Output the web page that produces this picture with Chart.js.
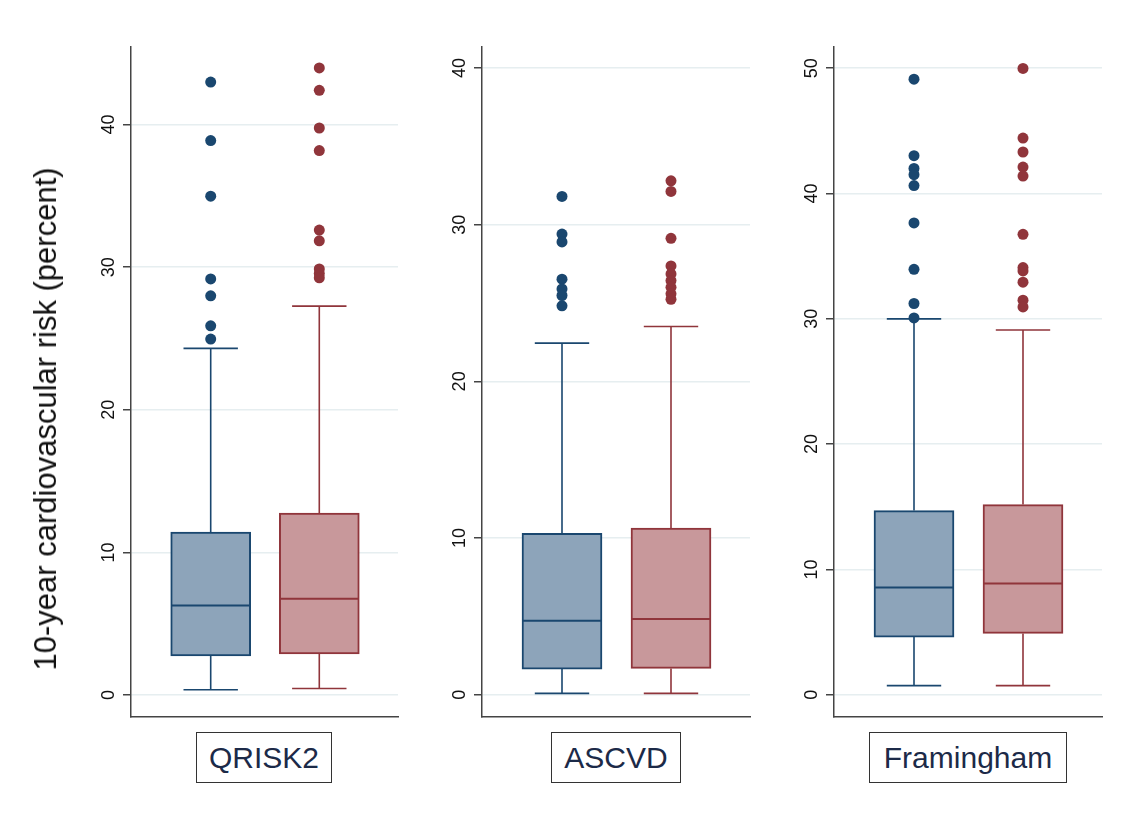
<!DOCTYPE html>
<html>
<head>
<meta charset="utf-8">
<script src="https://cdn.jsdelivr.net/npm/chart.js@4.4.1/dist/chart.umd.min.js"></script>
<style>
  body { margin: 0; background: #fff; }
  #wrap { position: relative; width: 1135px; height: 829px; overflow: hidden; font-family: "Liberation Sans", Arial, sans-serif; }
  canvas { position: absolute; top: 0; }
  .ytitle { position: absolute; left: 46px; top: 419px; transform: translate(-50%, -50%) rotate(-90deg); white-space: nowrap; font-size: 31px; color: #111; }
  .label { position: absolute; top: 732px; height: 51px; box-sizing: border-box; border: 1.5px solid #333; display: flex; align-items: center; justify-content: center; font-size: 30px; color: #1c2a48; }
</style>
</head>
<body>
<div id="wrap">
  <canvas id="c1" width="410" height="720" style="left:0px"></canvas>
  <canvas id="c2" width="350" height="720" style="left:410px"></canvas>
  <canvas id="c3" width="375" height="720" style="left:760px"></canvas>
  <div class="ytitle">10-year cardiovascular risk (percent)</div>
  <div class="label" style="left:196px;width:136px">QRISK2</div>
  <div class="label" style="left:551px;width:130px">ASCVD</div>
  <div class="label" style="left:869px;width:198px">Framingham</div>
</div>
<script>
// box stats: [lower whisker, Q1, median, Q3, upper whisker]
const groups = ['Group 1', 'Group 2'];
const groupPos = [1, 2];

const qrisk2Ticks = [0, 10, 20, 30, 40];
const qrisk2Blue = [0.37, 2.75, 6.28, 11.42, 24.31];
const qrisk2Red = [0.46, 2.89, 6.75, 12.75, 27.27];
const qrisk2BlueOutliers = [42.98, 38.88, 34.98, 29.18, 27.99, 25.89, 24.96];
const qrisk2RedOutliers = [43.97, 42.4, 39.76, 38.18, 32.6, 31.85, 29.88, 29.56, 29.26];

const ascvdTicks = [0, 10, 20, 30, 40];
const ascvdBlue = [0.09, 1.64, 4.73, 10.3, 22.44];
const ascvdRed = [0.09, 1.68, 4.84, 10.64, 23.5];
const ascvdBlueOutliers = [31.8, 29.4, 28.9, 26.52, 25.9, 25.48, 24.82];
const ascvdRedOutliers = [32.8, 32.12, 29.13, 27.37, 26.86, 26.43, 26.0, 25.59, 25.24];

const framinghamTicks = [0, 10, 20, 30, 40, 50];
const framinghamBlue = [0.72, 4.6, 8.55, 14.69, 29.99];
const framinghamRed = [0.72, 4.89, 8.87, 15.17, 29.1];
const framinghamBlueOutliers = [49.12, 43.02, 42.0, 41.5, 40.63, 37.65, 33.95, 31.22, 30.07];
const framinghamRedOutliers = [49.98, 44.42, 43.31, 42.11, 41.39, 36.74, 34.09, 33.82, 32.92, 31.48, 30.95];

const lineColors = ['#1a476f', '#90353b'];
const fillColors = ['#8da4ba', '#c8989b'];

Chart.defaults.font.family = '"Liberation Sans", Arial, sans-serif';

// whiskers, caps and median line on top of each box
const boxPlugin = {
  id: 'boxlines',
  afterDatasetDraw(chart, args) {
    const ds = chart.data.datasets[args.index];
    if (!ds.stats) return;
    const ctx = chart.ctx;
    const y = chart.scales.y;
    args.meta.data.forEach((bar, i) => {
      const s = ds.stats[i];
      const half = bar.width / 2;
      const cap = bar.width * 0.34;
      ctx.save();
      ctx.strokeStyle = lineColors[i];
      ctx.lineWidth = 1.6;
      ctx.beginPath();
      ctx.moveTo(bar.x, y.getPixelForValue(s[3]));
      ctx.lineTo(bar.x, y.getPixelForValue(s[4]));
      ctx.moveTo(bar.x - cap, y.getPixelForValue(s[4]));
      ctx.lineTo(bar.x + cap, y.getPixelForValue(s[4]));
      ctx.moveTo(bar.x, y.getPixelForValue(s[1]));
      ctx.lineTo(bar.x, y.getPixelForValue(s[0]));
      ctx.moveTo(bar.x - cap, y.getPixelForValue(s[0]));
      ctx.lineTo(bar.x + cap, y.getPixelForValue(s[0]));
      ctx.stroke();
      ctx.lineWidth = 2;
      ctx.beginPath();
      ctx.moveTo(bar.x - half + 1, y.getPixelForValue(s[2]));
      ctx.lineTo(bar.x + half - 1, y.getPixelForValue(s[2]));
      ctx.stroke();
      ctx.restore();
    });
  }
};

function makePanel(id, ticks, yMin, yMax, axisWidth, padRight, blue, red, blueOut, redOut) {
  const stats = [blue, red];
  new Chart(document.getElementById(id), {
    type: 'bar',
    data: {
      datasets: [
        {
          type: 'scatter',
          label: groups[0] + ' outliers',
          data: blueOut.map(v => ({ x: groupPos[0], y: v })),
          pointRadius: 5.5,
          pointBorderWidth: 0,
          pointBackgroundColor: lineColors[0],
          order: 1
        },
        {
          type: 'scatter',
          label: groups[1] + ' outliers',
          data: redOut.map(v => ({ x: groupPos[1], y: v })),
          pointRadius: 5.5,
          pointBorderWidth: 0,
          pointBackgroundColor: lineColors[1],
          order: 1
        },
        {
          label: 'box',
          stats: stats,
          data: groupPos.map((x, i) => ({ x: x, y: [stats[i][1], stats[i][3]] })),
          backgroundColor: fillColors,
          borderColor: lineColors,
          borderWidth: 2,
          borderSkipped: false,
          barThickness: 80,
          order: 2
        }
      ]
    },
    options: {
      responsive: false,
      animation: false,
      layout: { autoPadding: false, padding: { top: 47, right: padRight, bottom: 3, left: 0 } },
      plugins: { legend: { display: false }, tooltip: { enabled: false } },
      scales: {
        x: {
          type: 'linear',
          offset: false,
          min: 1 - 80 / 109,
          max: 2 + 79 / 109,
          ticks: { display: false },
          grid: { display: false },
          border: { display: true, color: '#444', width: 1.5 },
          afterFit: s => { s.height = 0; s.paddingLeft = 0; s.paddingRight = 0; }
        },
        y: {
          min: yMin,
          max: yMax,
          afterBuildTicks: s => { s.ticks = ticks.map(v => ({ value: v })); },
          afterFit: s => { s.width = axisWidth; s.paddingTop = 0; s.paddingBottom = 0; },
          ticks: { minRotation: 90, maxRotation: 90, crossAlign: 'center', padding: 4, color: '#111', font: { size: 18 } },
          grid: { color: '#e6eef0', lineWidth: 1.5, tickColor: '#444', tickLength: 8, tickWidth: 1.5 },
          border: { display: true, color: '#444', width: 1.5 }
        }
      }
    },
    plugins: [boxPlugin]
  });
}

makePanel('c1', qrisk2Ticks, -1.54, 45.44, 131, 12, qrisk2Blue, qrisk2Red, qrisk2BlueOutliers, qrisk2RedOutliers);
makePanel('c2', ascvdTicks, -1.42, 41.34, 72, 10, ascvdBlue, ascvdRed, ascvdBlueOutliers, ascvdRedOutliers);
makePanel('c3', framinghamTicks, -1.78, 51.69, 74, 33, framinghamBlue, framinghamRed, framinghamBlueOutliers, framinghamRedOutliers);
</script>
</body>
</html>
